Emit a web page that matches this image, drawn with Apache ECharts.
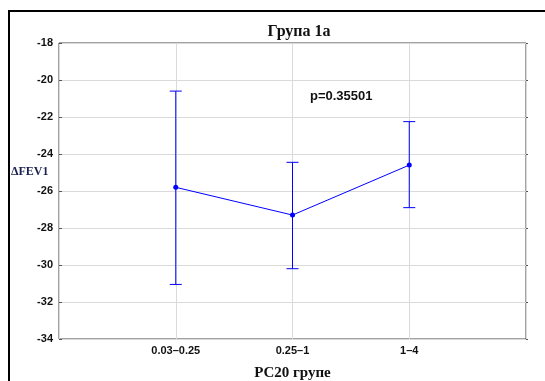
<!DOCTYPE html>
<html>
<head>
<meta charset="utf-8">
<script src="https://cdn.jsdelivr.net/npm/echarts@6/dist/echarts.min.js"></script>
<style>
  html, body { margin: 0; padding: 0; background: #fff; }
  #chart { width: 545px; height: 381px; }
</style>
</head>
<body>
<div id="chart"></div>
<script>
// PC20 groups along the x axis
const categories = ['0.03–0.25', '0.25–1', '1–4'];
// mean ΔFEV1 per group with lower / upper whisker ends
const means = [-25.8, -27.3, -24.6];
const upper = [-20.6, -24.45, -22.25];
const lower = [-31.05, -30.2, -26.9];
// y axis ticks
const yTicks = [-34, -32, -30, -28, -26, -24, -22, -20, -18];
const pText = 'p=0.35501';

const chart = echarts.init(document.getElementById('chart'), null, { renderer: 'canvas' });

const linePts = categories.map((c, i) => [i + 1, means[i]]);
const barPts = categories.map((c, i) => [i + 1, lower[i], upper[i]]);

const option = {
  animation: false,
  backgroundColor: '#fff',
  title: {
    text: 'Група 1а',
    left: 294, top: 19, textAlign: 'center',
    textStyle: { fontFamily: 'Liberation Serif', fontWeight: 'bold', fontSize: 16, color: '#111' }
  },
  grid: {
    left: 59, top: 43, right: 19, bottom: 42,
    outerBoundsMode: 'none',
    containLabel: false,
    show: true, borderColor: '#444', borderWidth: 1, backgroundColor: '#fff'
  },
  xAxis: {
    type: 'value', min: 0, max: 4, interval: 1,
    axisLine: { show: false },
    axisTick: { show: false },
    splitLine: { show: true, lineStyle: { color: '#dadada', width: 1 } },
    axisLabel: {
      margin: 6,
      fontFamily: 'Liberation Sans', fontWeight: 'bold', fontSize: 11, color: '#111',
      formatter: v => (v >= 1 && v <= categories.length) ? categories[v - 1] : ''
    },
    name: 'PC20 групе', nameLocation: 'middle', nameGap: 27,
    nameTextStyle: { fontFamily: 'Liberation Serif', fontWeight: 'bold', fontSize: 15, color: '#111' }
  },
  yAxis: [{
    type: 'value', min: yTicks[0], max: yTicks[yTicks.length - 1], interval: 2,
    axisLine: { show: false },
    axisTick: { show: true, inside: true, length: 3, lineStyle: { color: '#555' } },
    splitLine: { show: true, lineStyle: { color: '#dadada', width: 1 } },
    axisLabel: {
      margin: 6,
      fontFamily: 'Liberation Sans', fontWeight: 'bold', fontSize: 11, color: '#111'
    }
  }, {
    type: 'value', min: yTicks[0], max: yTicks[yTicks.length - 1], interval: 2,
    position: 'right',
    axisLine: { show: false },
    axisTick: { show: true, inside: false, length: 2, lineStyle: { color: '#555' } },
    splitLine: { show: false },
    axisLabel: { show: false }
  }],
  series: [{
    type: 'custom',
    renderItem: (params, api) => {
      const x = api.value(0);
      const lo = api.coord([x, api.value(1)]);
      const hi = api.coord([x, api.value(2)]);
      const hw = 6;
      const st = { stroke: '#0000ff', lineWidth: 1 };
      return {
        type: 'group',
        children: [
          { type: 'line', shape: { x1: lo[0], y1: lo[1], x2: hi[0], y2: hi[1] }, style: st },
          { type: 'line', shape: { x1: lo[0] - hw, y1: lo[1], x2: lo[0] + hw, y2: lo[1] }, style: st },
          { type: 'line', shape: { x1: hi[0] - hw, y1: hi[1], x2: hi[0] + hw, y2: hi[1] }, style: st }
        ]
      };
    },
    data: barPts,
    z: 3
  }, {
    type: 'line',
    data: linePts,
    symbol: 'circle', symbolSize: 5,
    lineStyle: { color: '#0000ff', width: 1 },
    itemStyle: { color: '#0000ff' },
    z: 4
  }],
  graphic: [
    { type: 'line', shape: { x1: 8, y1: 11, x2: 545, y2: 11 }, style: { stroke: '#000', lineWidth: 2 } },
    { type: 'line', shape: { x1: 9, y1: 10, x2: 9, y2: 381 }, style: { stroke: '#000', lineWidth: 2 } },
    {
      type: 'text', left: 11, top: 166,
      style: { text: 'ΔFEV1', font: 'bold 12px "Liberation Serif"', fill: '#1a2050' }
    },
    {
      type: 'text', left: 310, top: 90,
      style: { text: pText, font: 'bold 13px "Liberation Sans"', fill: '#111' }
    }
  ]
};

chart.setOption(option);
</script>
</body>
</html>
